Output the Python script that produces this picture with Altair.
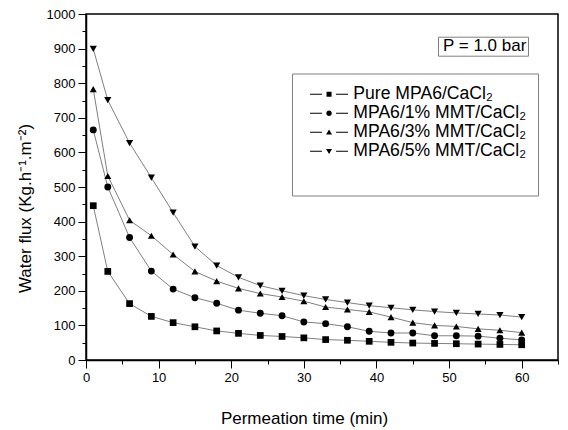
import altair as alt
import pandas as pd

time_min = [1, 3, 6, 9, 12, 15, 18, 21, 24, 27, 30, 33, 36, 39, 42, 45, 48, 51, 54, 57, 60]
series_names = ["Pure MPA6/CaCl₂", "MPA6/1% MMT/CaCl₂", "MPA6/3% MMT/CaCl₂", "MPA6/5% MMT/CaCl₂"]
flux_pure = [446, 256, 163, 126, 108, 96, 84, 77, 71, 68, 64, 59, 57, 54, 51, 49, 48, 47, 46, 45, 44]
flux_1 = [665, 500, 354, 257, 205, 180, 164, 144, 135, 128, 110, 105, 96, 83, 78, 78, 70, 70, 69, 63, 58]
flux_3 = [783, 532, 404, 359, 305, 256, 228, 207, 192, 182, 170, 153, 146, 139, 124, 108, 100, 97, 90, 86, 79]
flux_5 = [899, 751, 627, 527, 426, 328, 273, 239, 215, 200, 186, 175, 166, 157, 151, 145, 140, 136, 133, 130, 124]
note_text = ["P = 1.0 bar"]

rows = []
for name, vals in zip(series_names, [flux_pure, flux_1, flux_3, flux_5]):
    for t, v in zip(time_min, vals):
        rows.append({"time": t, "flux": v, "series": name})
df = pd.DataFrame(rows)
note_df = pd.DataFrame({"note": note_text})

FONT = "Liberation Sans"

x_enc = alt.X(
    "time:Q",
    scale=alt.Scale(domain=[0, 65], nice=False),
    axis=alt.Axis(
        values=list(range(0, 66, 5)),
        labelExpr="datum.value % 10 === 0 ? datum.label : ''",
        tickSize={"condition": {"test": "datum.value % 10 === 0", "value": 8}, "value": 4},
        title="Permeation time (min)",
        labelPadding=3,
        titlePadding=26,
        titleX=218,
        labelOverlap=False,
        labelFlush=False,
    ),
)
y_enc = alt.Y(
    "flux:Q",
    scale=alt.Scale(domain=[0, 1000], nice=False),
    axis=alt.Axis(
        values=list(range(0, 1001, 50)),
        labelExpr="datum.value % 100 === 0 ? datum.label : ''",
        tickSize={"condition": {"test": "datum.value % 100 === 0", "value": 8}, "value": 4},
        title="Water flux (Kg.h⁻¹.m⁻²)",
        labelPadding=3,
        titlePadding=12,
        titleY=194,
        labelOverlap=False,
        labelFlush=False,
        format="d",
    ),
)

base = alt.Chart(df)

lines = base.mark_line(color="#808080", strokeWidth=1).encode(
    x=x_enc, y=y_enc, detail="series:N"
)

points = base.mark_point(filled=True, color="black", opacity=1).encode(
    x=x_enc,
    y=y_enc,
    shape=alt.Shape(
        "series:N",
        scale=alt.Scale(domain=series_names, range=["square", "circle", "triangle-up", "triangle-down"]),
        legend=None,
    ),
    size=alt.Size(
        "series:N",
        scale=alt.Scale(domain=series_names, range=[45, 52, 80, 80]),
        legend=None,
    ),
)

dash = "M-1.1,-0.18H3.7V0.18H-1.1ZM9.3,-0.18H14.1V0.18H9.3Z"
legend_paths = [
    dash + "M5.5,-1H7.5V1H5.5Z",
    dash + "M7.6,0A1.1,1.1 0 1,1 5.4,0A1.1,1.1 0 1,1 7.6,0Z",
    dash + "M6.5,-1.1L7.7,0.9H5.3Z",
    dash + "M6.5,1.1L7.7,-0.9H5.3Z",
]

legend_layer = base.mark_point(
    filled=True, fill="black", opacity=0
).encode(
    x=x_enc,
    y=y_enc,
    shape=alt.Shape(
        "series:N",
        scale=alt.Scale(domain=series_names, range=legend_paths),
        legend=alt.Legend(
            orient="none",
            legendX=206,
            legendY=59.5,
            title=" ",
            titleOrient="bottom",
            titleFont=FONT,
            titleFontSize=14,
            titlePadding=10,
            symbolSize=25,
            symbolOpacity=1,
            symbolFillColor="black",
            symbolStrokeWidth=0,
            labelOffset=31.7,
            labelFont=FONT,
            labelFontSize=17.6,
            labelLimit=400,
            labelColor="black",
            rowPadding=0,
            padding=12,
            strokeColor="#808080",
            fillColor="white",
        ),
    ),
)

note_layer = alt.Chart(note_df).mark_point(opacity=0).encode(
    x=alt.value(0),
    y=alt.value(0),
    color=alt.Color(
        "note:N",
        scale=alt.Scale(range=["black"]),
        legend=alt.Legend(
            orient="none",
            legendX=352,
            legendY=22.7,
            title=" ",
            titleOrient="left",
            titleFontSize=1,
            titlePadding=4,
            symbolSize=0,
            symbolOpacity=0,
            labelOffset={"expr": "-17"},
            labelFont=FONT,
            labelFontSize=17,
            labelColor="black",
            padding=1,
            strokeColor="#808080",
            fillColor="white",
        ),
    ),
)

chart = (
    alt.layer(lines, points, legend_layer, note_layer)
    .resolve_scale(shape="independent", color="independent")
    .properties(
        width=472,
        height=346,
        autosize=alt.AutoSizeParams(type="none"),
        padding={"left": 78, "top": 6, "right": 2, "bottom": 70},
    )
    .configure_view(stroke="black", strokeWidth=1.5)
    .configure_axis(
        domainColor="black",
        domainWidth=1.5,
        tickColor="black",
        tickWidth=1,
        grid=False,
        labelFont=FONT,
        labelFontSize=13,
        labelColor="black",
        titleFont=FONT,
        titleFontSize=17,
        titleFontWeight="normal",
        titleColor="black",
    )
)

chart.save("out.html", embed_options={"renderer": "svg", "actions": False})
